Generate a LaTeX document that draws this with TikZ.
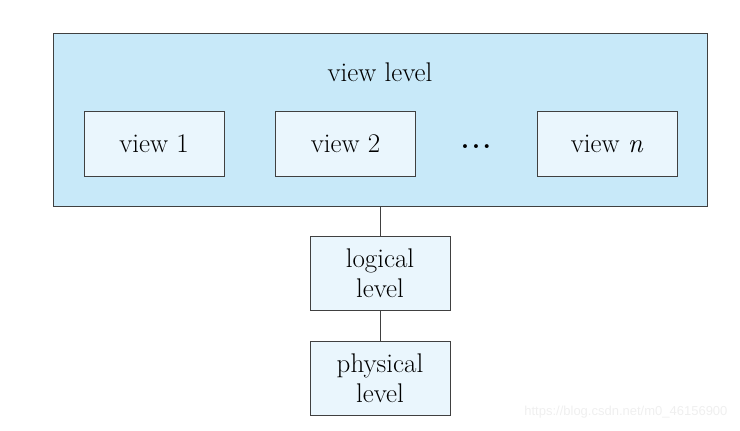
\documentclass[tikz,border=0pt]{standalone}
\usepackage{fontspec}
\newfontfamily\wmfont{Liberation Sans}
\definecolor{outerfill}{HTML}{C8E9F9}
\definecolor{innerfill}{HTML}{EAF6FD}
\definecolor{edge}{HTML}{404040}
\definecolor{wm}{HTML}{EFEFEF}
\begin{document}
\begin{tikzpicture}[x=1pt,y=-1pt,
  lbl/.style={font=\fontsize{27}{30}\selectfont},
  lvbox/.style={draw=edge, line width=0.9pt, fill=innerfill, inner sep=0pt, lbl, align=center},
  outerbox/.style={draw=edge, line width=0.9pt, fill=outerfill, inner sep=0pt},
  conn/.style={draw=edge, line width=0.9pt}]
\useasboundingbox (0,0) rectangle (740,431);
\node[outerbox, minimum width=654pt, minimum height=173pt] (vl) at (380,119.5) {};
\node[lbl] (vltext) at (380,72) {view level};
\node[lvbox, minimum width=140pt, minimum height=65pt] (v1) at (154,143.5) {view 1};
\node[lvbox, minimum width=140pt, minimum height=65pt] (v2) at (345.5,143.5) {view 2};
\node[lbl, anchor=base] (dots) at (476,148) {\textbf{.\kern2.5pt.\kern2.5pt.}};
\node[lvbox, minimum width=140pt, minimum height=65pt] (vn) at (607,143.5) {view \textit{n}};
\node[lvbox, minimum width=140pt, minimum height=74pt] (ll) at (380,273) {logical\\level};
\node[lvbox, minimum width=140pt, minimum height=74pt] (pl) at (380,378) {physical\\level};
\draw[conn] (vl.south) -- (ll.north);
\draw[conn] (ll.south) -- (pl.north);
\node[font=\wmfont\fontsize{13}{15}\selectfont, text=wm, anchor=east] (wmark) at (731,412) {https://blog.csdn.net/m0\_46156900};
\end{tikzpicture}
\end{document}
